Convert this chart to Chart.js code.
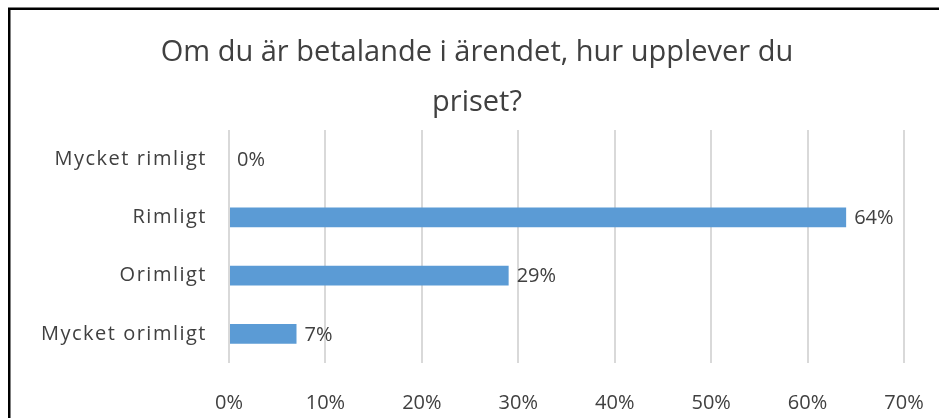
<!DOCTYPE html>
<html>
<head>
<meta charset="utf-8">
<script src="https://cdn.jsdelivr.net/npm/chart.js@4"></script>
<style>
    html, body { margin: 0; padding: 0; background: #fff; overflow: hidden; }
    canvas { display: block; }
</style>
</head>
<body>
<canvas id="grafico" width="939" height="418"></canvas>
<script>
    var kategorier = ['Mycket rimligt', 'Rimligt', 'Orimligt', 'Mycket orimligt'];
    var andelar = [0, 64, 29, 7];
    var titelRader = ['Om du är betalande i ärendet, hur upplever du', 'priset?'];
    var xMax = 70;
    var xSteg = 10;

    var typsnitt = '"Open Sans", sans-serif';
    var textfarg = '#404040';

    // datalabels + extra spacing for the category labels (drawn after the bars, z: 1)
    var etiketter = {
        id: 'etiketter',
        beforeDraw: function (chart) {
            chart.ctx.letterSpacing = '0px';
        },
        afterDatasetsDraw: function (chart) {
            var ctx = chart.ctx;
            var meta = chart.getDatasetMeta(0);
            ctx.save();
            ctx.font = '20px ' + typsnitt;
            ctx.fillStyle = textfarg;
            ctx.textAlign = 'left';
            ctx.textBaseline = 'middle';
            meta.data.forEach(function (bar, i) {
                ctx.fillText(andelar[i] + '%', bar.x + 8, bar.y + 1);
            });
            ctx.restore();
            ctx.letterSpacing = '1.5px';
        },
        afterDraw: function (chart) {
            // frame around the chart, only top and left edges are inside the picture
            var ctx = chart.ctx;
            ctx.letterSpacing = '0px';
            ctx.save();
            ctx.strokeStyle = '#000';
            ctx.lineWidth = 2.5;
            ctx.beginPath();
            ctx.moveTo(9.25, chart.height);
            ctx.lineTo(9.25, 8.75);
            ctx.lineTo(chart.width, 8.75);
            ctx.stroke();
            ctx.restore();
        }
    };

    new Chart(document.getElementById('grafico').getContext('2d'), {
        type: 'bar',
        data: {
            labels: kategorier,
            datasets: [{
                data: andelar,
                backgroundColor: '#5b9bd5',
                borderWidth: 0,
                barPercentage: 0.67,
                categoryPercentage: 0.5
            }]
        },
        options: {
            indexAxis: 'y',
            responsive: false,
            animation: false,
            layout: { padding: { top: 0, right: 21, bottom: 2, left: 36 } },
            plugins: {
                legend: { display: false },
                tooltip: { enabled: false },
                title: {
                    display: true,
                    text: titelRader,
                    color: textfarg,
                    font: { family: typsnitt, size: 29, weight: 'normal', lineHeight: 1.724 },
                    padding: { top: 28, bottom: 2 }
                }
            },
            scales: {
                x: {
                    min: 0,
                    max: xMax,
                    ticks: {
                        stepSize: xSteg,
                        padding: 28,
                        color: textfarg,
                        font: { family: typsnitt, size: 20 },
                        callback: function (v) { return v + '%'; }
                    },
                    grid: { color: '#d9d9d9', lineWidth: 2, drawTicks: false },
                    border: { display: false },
                    afterFit: function (axis) {
                        axis.height = 53;
                        axis.paddingLeft = 0;
                        axis.paddingRight = 35;
                    }
                },
                y: {
                    ticks: {
                        padding: 22,
                        z: 1,
                        color: textfarg,
                        font: { family: typsnitt, size: 20 }
                    },
                    grid: { display: false, drawTicks: false },
                    border: { display: false },
                    afterFit: function (axis) {
                        axis.width = 193;
                        axis.paddingTop = 0;
                        axis.paddingBottom = 0;
                    }
                }
            }
        },
        plugins: [etiketter]
    });
</script>
</body>
</html>
